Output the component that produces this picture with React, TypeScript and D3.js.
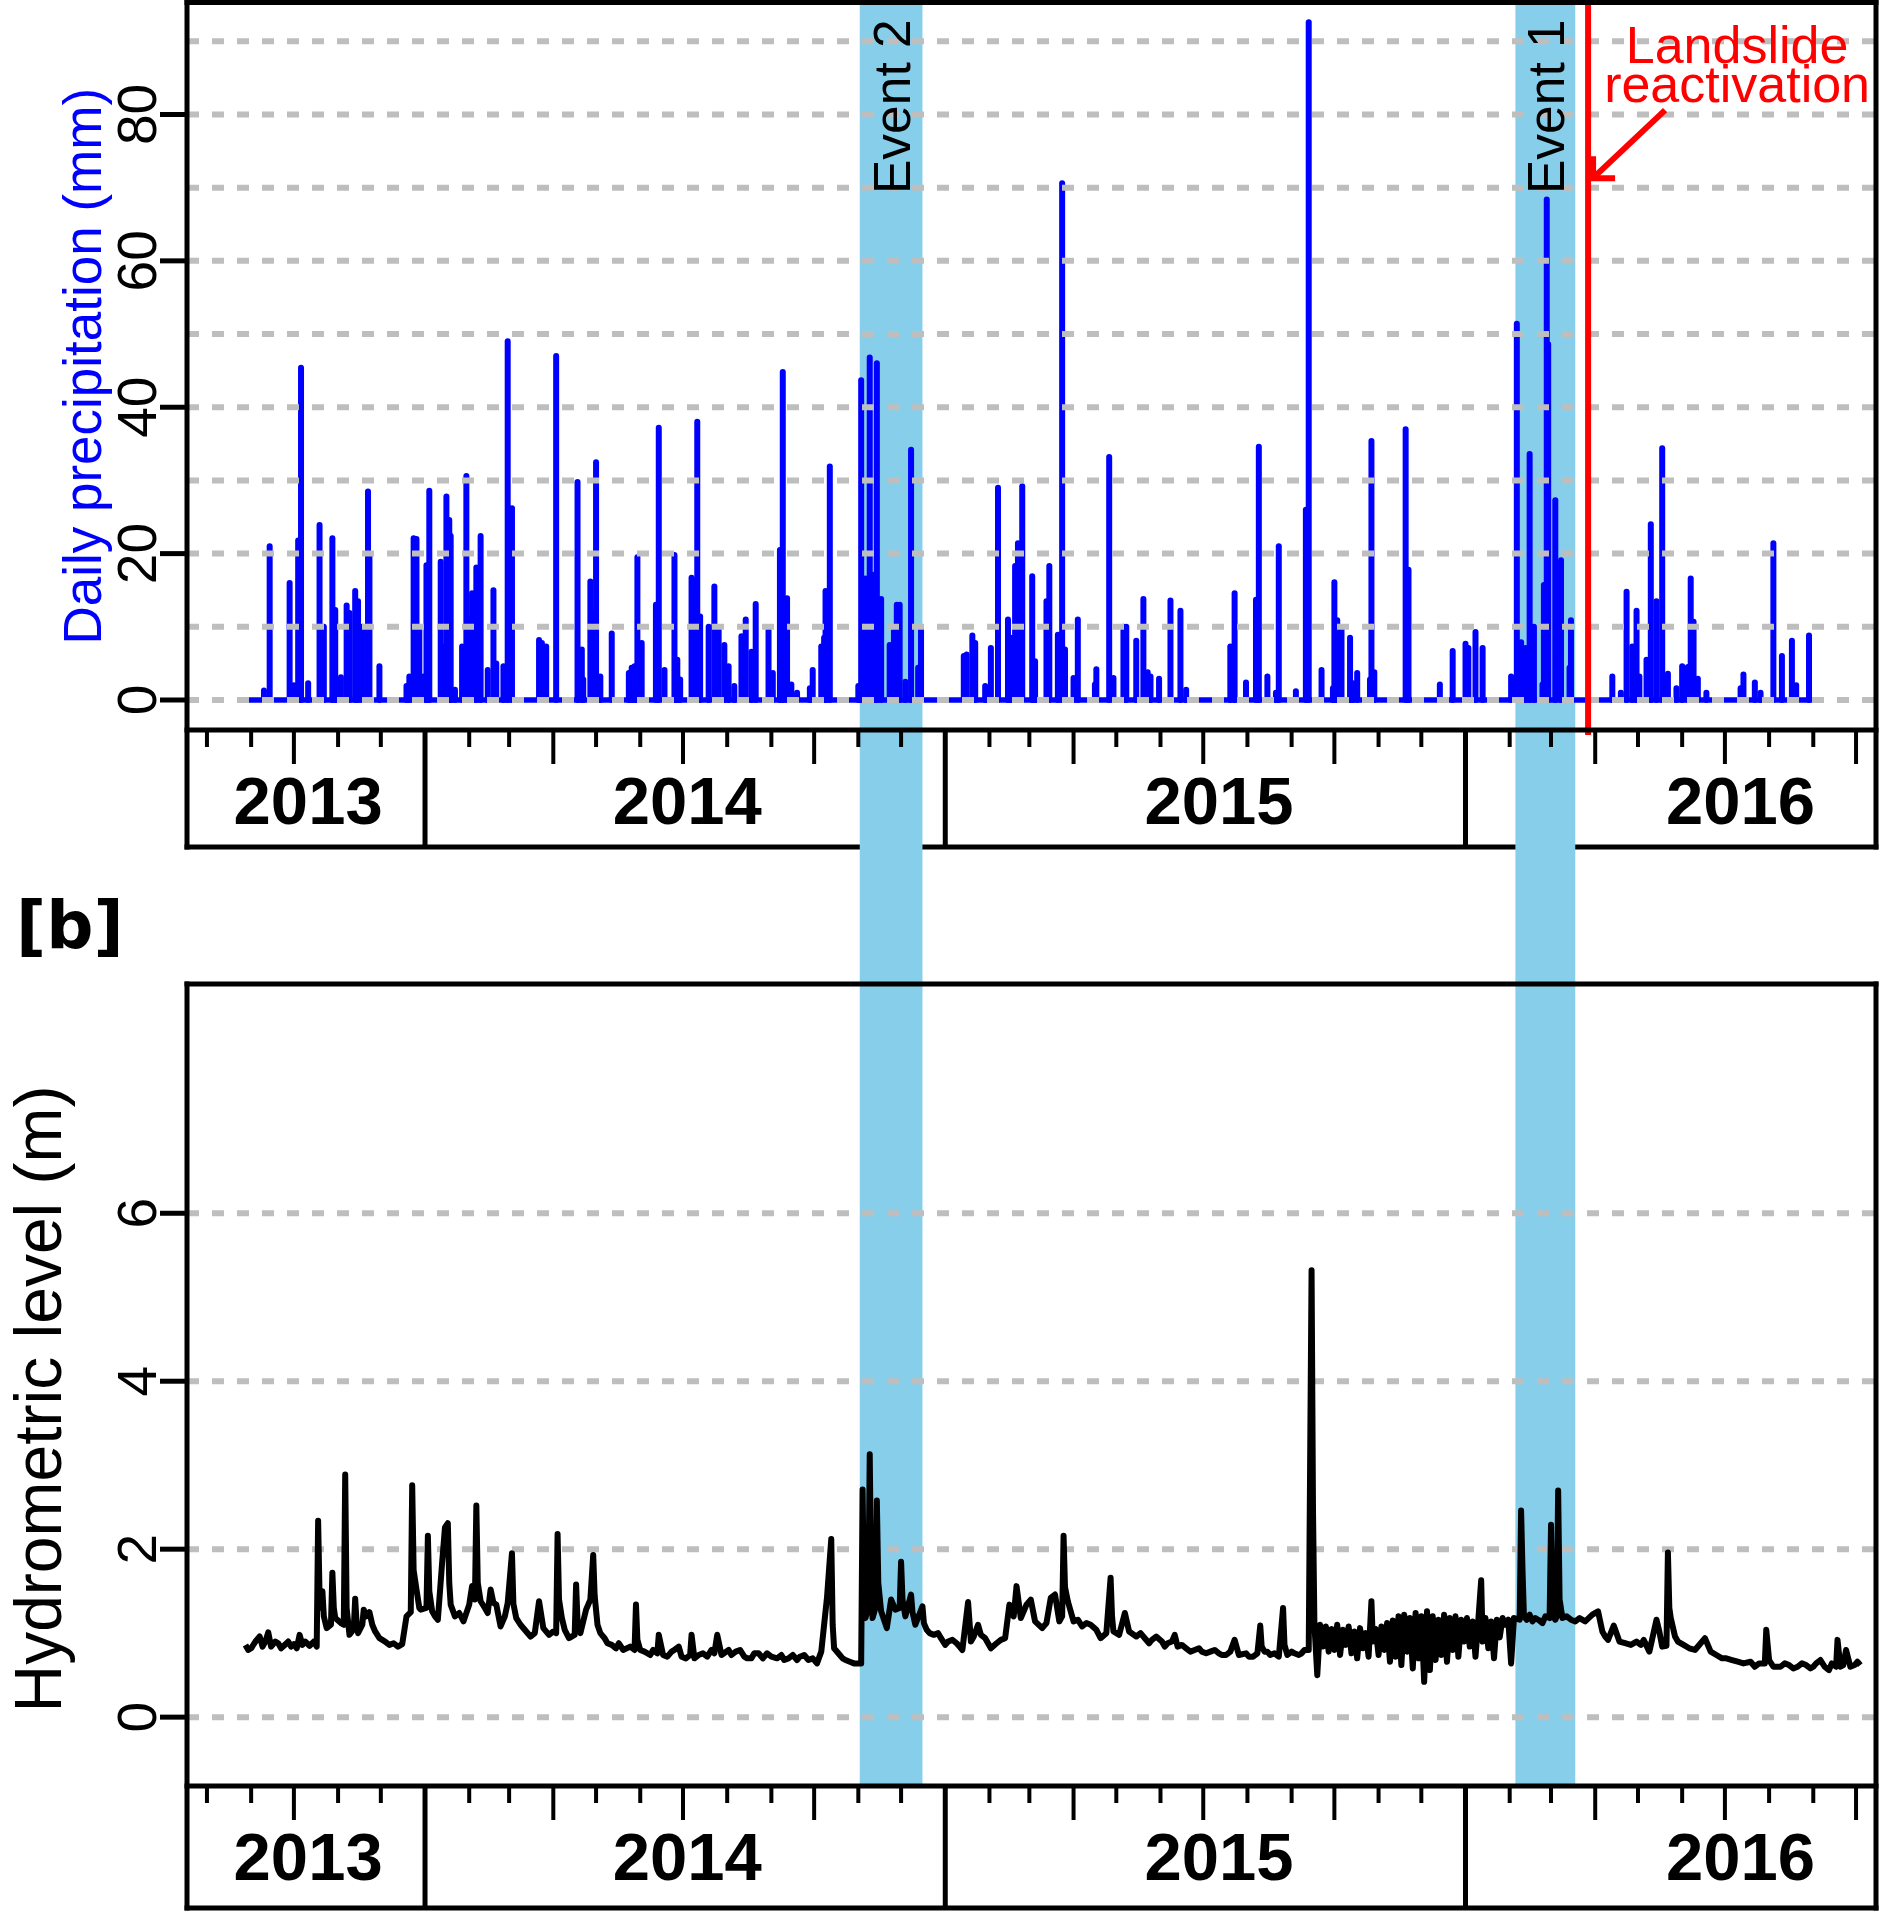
import React, { useEffect, useRef } from 'react';
import * as d3 from 'd3';

// daily precipitation (mm), days without rain are zero
const rainfall: [string, number][] = [
  ['2013-09-10', 1.3], ['2013-09-14', 21], ['2013-09-28', 16], ['2013-10-01', 2], ['2013-10-04', 21.8],
  ['2013-10-06', 45.4], ['2013-10-11', 2.3], ['2013-10-19', 23.9], ['2013-10-22', 10], ['2013-10-28', 22.1],
  ['2013-10-30', 12.3], ['2013-11-03', 3.1], ['2013-11-07', 12.9], ['2013-11-09', 11.9], ['2013-11-13', 14.9],
  ['2013-11-15', 13.5], ['2013-11-18', 10], ['2013-11-22', 28.5], ['2013-11-23', 19.6], ['2013-11-30', 4.6],
  ['2013-12-19', 1.9], ['2013-12-21', 3.2], ['2013-12-24', 22.1], ['2013-12-26', 22], ['2013-12-28', 9.6],
  ['2013-12-31', 3.2], ['2014-01-02', 18.4], ['2014-01-04', 28.6], ['2014-01-12', 18.9], ['2014-01-14', 7.3],
  ['2014-01-16', 27.8], ['2014-01-18', 24.6], ['2014-01-19', 22.4], ['2014-01-22', 1.4], ['2014-01-27', 7.3],
  ['2014-01-30', 30.6], ['2014-02-01', 11], ['2014-02-03', 14.6], ['2014-02-06', 18.1], ['2014-02-09', 22.4],
  ['2014-02-14', 4.1], ['2014-02-18', 15], ['2014-02-20', 5], ['2014-02-25', 4.6], ['2014-02-28', 49],
  ['2014-03-03', 26.2], ['2014-03-22', 8.2], ['2014-03-24', 7.8], ['2014-03-27', 7.3], ['2014-04-03', 47],
  ['2014-04-18', 29.8], ['2014-04-21', 6.9], ['2014-04-22', 2.8], ['2014-04-27', 16.2], ['2014-04-28', 11.9],
  ['2014-05-01', 32.5], ['2014-05-04', 3.2], ['2014-05-12', 9.1], ['2014-05-24', 3.7], ['2014-05-26', 4.4],
  ['2014-05-28', 4.6], ['2014-05-30', 19.5], ['2014-06-02', 7.8], ['2014-06-12', 13], ['2014-06-14', 37.2],
  ['2014-06-18', 4.1], ['2014-06-25', 19.8], ['2014-06-27', 5.5], ['2014-06-29', 2.8], ['2014-07-07', 16.7],
  ['2014-07-08', 16.4], ['2014-07-11', 38], ['2014-07-13', 11.4], ['2014-07-19', 10], ['2014-07-23', 15.5],
  ['2014-07-26', 9.6], ['2014-07-30', 7.5], ['2014-08-02', 4.6], ['2014-08-06', 1.9], ['2014-08-11', 8.7],
  ['2014-08-14', 11], ['2014-08-18', 6.6], ['2014-08-21', 13.1], ['2014-08-30', 9.5], ['2014-09-02', 3.7],
  ['2014-09-07', 20.5], ['2014-09-09', 44.8], ['2014-09-12', 13.9], ['2014-09-15', 2.1], ['2014-09-19', 1],
  ['2014-09-28', 1.6], ['2014-09-30', 4.1], ['2014-10-06', 7.3], ['2014-10-08', 8.5], ['2014-10-09', 14.9],
  ['2014-10-12', 31.9], ['2014-11-01', 1.9], ['2014-11-03', 43.7], ['2014-11-06', 16.6], ['2014-11-07', 8],
  ['2014-11-09', 46.8], ['2014-11-12', 17.1], ['2014-11-14', 46], ['2014-11-17', 13.8], ['2014-11-23', 7.5],
  ['2014-11-26', 9.4], ['2014-11-28', 13], ['2014-11-30', 13], ['2014-12-04', 2.5], ['2014-12-08', 34.2],
  ['2014-12-13', 4.4], ['2014-12-15', 9.6], ['2015-01-14', 6], ['2015-01-16', 6.2], ['2015-01-20', 8.8],
  ['2015-01-22', 7.8], ['2015-01-29', 1.9], ['2015-02-02', 7.1], ['2015-02-07', 29], ['2015-02-14', 11],
  ['2015-02-16', 8.5], ['2015-02-19', 18.3], ['2015-02-21', 21.4], ['2015-02-24', 29.2], ['2015-03-03', 16.9],
  ['2015-03-05', 5.3], ['2015-03-13', 13.5], ['2015-03-15', 18.3], ['2015-03-21', 8.9], ['2015-03-24', 70.6],
  ['2015-03-26', 6.9], ['2015-04-01', 3], ['2015-04-04', 11], ['2015-04-16', 2.1], ['2015-04-17', 4.2],
  ['2015-04-26', 33.2], ['2015-04-29', 3], ['2015-05-06', 10], ['2015-05-08', 10], ['2015-05-15', 8.1],
  ['2015-05-20', 13.8], ['2015-05-23', 3.8], ['2015-05-25', 3.2], ['2015-05-31', 2.9], ['2015-06-08', 13.6],
  ['2015-06-15', 12.2], ['2015-06-19', 1.4], ['2015-07-20', 7.3], ['2015-07-23', 14.6], ['2015-07-31', 2.4],
  ['2015-08-07', 13.7], ['2015-08-09', 34.6], ['2015-08-15', 3.2], ['2015-08-21', 1], ['2015-08-23', 21],
  ['2015-09-04', 1.2], ['2015-09-11', 26], ['2015-09-13', 92.6], ['2015-09-22', 4.1], ['2015-09-30', 1.6],
  ['2015-10-01', 16.1], ['2015-10-03', 10.9], ['2015-10-06', 9.6], ['2015-10-12', 8.5], ['2015-10-14', 2.3],
  ['2015-10-17', 3.7], ['2015-10-26', 2.8], ['2015-10-27', 35.4], ['2015-10-29', 3.8], ['2015-11-20', 37],
  ['2015-11-22', 17.8], ['2015-12-14', 2.1], ['2015-12-23', 6.7], ['2016-01-01', 7.7], ['2016-01-03', 7.1],
  ['2016-01-08', 9.3], ['2016-01-13', 7.1], ['2016-02-02', 3.2], ['2016-02-06', 51.4], ['2016-02-09', 7.9],
  ['2016-02-12', 7.1], ['2016-02-15', 33.6], ['2016-02-18', 10], ['2016-02-24', 2.1], ['2016-02-25', 15.7],
  ['2016-02-27', 68.4], ['2016-02-28', 48.6], ['2016-03-04', 27.3], ['2016-03-08', 19.1], ['2016-03-14', 4.4],
  ['2016-03-15', 10.9], ['2016-04-13', 3.2], ['2016-04-19', 1], ['2016-04-23', 14.8], ['2016-04-27', 7.3],
  ['2016-04-30', 12.2], ['2016-05-02', 3.2], ['2016-05-07', 5.5], ['2016-05-10', 24], ['2016-05-14', 13.5],
  ['2016-05-18', 34.4], ['2016-05-22', 3.6], ['2016-05-28', 1.6], ['2016-06-01', 4.6], ['2016-06-05', 4.5],
  ['2016-06-07', 16.6], ['2016-06-09', 10.7], ['2016-06-12', 2.9], ['2016-06-18', 1], ['2016-07-12', 1.6],
  ['2016-07-14', 3.5], ['2016-07-22', 2.4], ['2016-07-26', 1], ['2016-08-04', 21.4], ['2016-08-10', 6],
  ['2016-08-17', 8.1], ['2016-08-20', 2], ['2016-08-29', 8.8],
];
const rainRecord = ['2013-08-27', '2016-09-03'];

// hydrometric level (m)
const hydroLevel: [string, number][] = [
  ['2013-08-28', 0.86], ['2013-08-30', 0.8], ['2013-09-01', 0.82], ['2013-09-04', 0.9], ['2013-09-07', 0.96],
  ['2013-09-09', 0.84], ['2013-09-11', 0.9], ['2013-09-13', 1.01], ['2013-09-15', 0.84], ['2013-09-18', 0.9],
  ['2013-09-20', 0.88], ['2013-09-22', 0.82], ['2013-09-24', 0.85], ['2013-09-27', 0.9], ['2013-09-29', 0.84],
  ['2013-10-01', 0.87], ['2013-10-03', 0.82], ['2013-10-05', 0.98], ['2013-10-07', 0.86], ['2013-10-09', 0.9],
  ['2013-10-12', 0.85], ['2013-10-15', 0.9], ['2013-10-17', 0.84], ['2013-10-18', 2.34], ['2013-10-19', 1.45],
  ['2013-10-20', 1.3], ['2013-10-21', 1.5], ['2013-10-22', 1.2], ['2013-10-24', 1.06], ['2013-10-27', 1.1],
  ['2013-10-28', 1.72], ['2013-10-29', 1.3], ['2013-10-30', 1.18], ['2013-11-03', 1.12], ['2013-11-05', 1.1],
  ['2013-11-06', 2.89], ['2013-11-07', 1.3], ['2013-11-09', 0.98], ['2013-11-12', 1.05], ['2013-11-13', 1.41],
  ['2013-11-14', 1.12], ['2013-11-15', 1.0], ['2013-11-18', 1.1], ['2013-11-19', 1.28], ['2013-11-21', 1.2],
  ['2013-11-23', 1.25], ['2013-11-25', 1.1], ['2013-11-27', 1.02], ['2013-11-30', 0.94], ['2013-12-04', 0.9],
  ['2013-12-07', 0.86], ['2013-12-10', 0.88], ['2013-12-13', 0.84], ['2013-12-16', 0.87], ['2013-12-19', 1.2],
  ['2013-12-22', 1.25], ['2013-12-23', 2.76], ['2013-12-24', 1.75], ['2013-12-26', 1.52], ['2013-12-28', 1.3],
  ['2013-12-29', 1.28], ['2014-01-02', 1.3], ['2014-01-03', 2.16], ['2014-01-04', 1.5], ['2014-01-06', 1.26],
  ['2014-01-08', 1.2], ['2014-01-10', 1.16], ['2014-01-13', 1.84], ['2014-01-15', 2.26], ['2014-01-17', 2.31],
  ['2014-01-18', 1.6], ['2014-01-19', 1.34], ['2014-01-22', 1.2], ['2014-01-25', 1.24], ['2014-01-28', 1.14],
  ['2014-02-01', 1.34], ['2014-02-03', 1.56], ['2014-02-05', 1.4], ['2014-02-06', 2.52], ['2014-02-07', 1.6],
  ['2014-02-09', 1.38], ['2014-02-12', 1.3], ['2014-02-14', 1.24], ['2014-02-16', 1.52], ['2014-02-18', 1.36],
  ['2014-02-20', 1.34], ['2014-02-23', 1.08], ['2014-02-26', 1.2], ['2014-02-28', 1.36], ['2014-03-03', 1.95],
  ['2014-03-04', 1.35], ['2014-03-06', 1.18], ['2014-03-09', 1.1], ['2014-03-13', 1.02], ['2014-03-16', 0.96],
  ['2014-03-19', 1.0], ['2014-03-22', 1.38], ['2014-03-25', 1.06], ['2014-03-29', 0.98], ['2014-04-01', 1.02],
  ['2014-04-03', 1.0], ['2014-04-04', 2.18], ['2014-04-05', 1.4], ['2014-04-07', 1.18], ['2014-04-09', 1.04],
  ['2014-04-12', 0.94], ['2014-04-16', 0.98], ['2014-04-17', 1.58], ['2014-04-18', 1.14], ['2014-04-20', 1.0],
  ['2014-04-24', 1.28], ['2014-04-27', 1.4], ['2014-04-29', 1.93], ['2014-04-30', 1.45], ['2014-05-02', 1.1],
  ['2014-05-04', 1.0], ['2014-05-07', 0.94], ['2014-05-09', 0.88], ['2014-05-12', 0.86], ['2014-05-15', 0.82],
  ['2014-05-17', 0.88], ['2014-05-20', 0.8], ['2014-05-25', 0.84], ['2014-05-28', 0.8], ['2014-05-29', 1.34],
  ['2014-05-30', 0.92], ['2014-06-01', 0.8], ['2014-06-04', 0.78], ['2014-06-08', 0.74], ['2014-06-10', 0.8],
  ['2014-06-13', 0.76], ['2014-06-14', 0.98], ['2014-06-17', 0.74], ['2014-06-20', 0.72], ['2014-06-23', 0.78],
  ['2014-06-25', 0.8], ['2014-06-28', 0.84], ['2014-06-30', 0.72], ['2014-07-03', 0.7], ['2014-07-06', 0.74],
  ['2014-07-07', 0.98], ['2014-07-09', 0.7], ['2014-07-12', 0.74], ['2014-07-15', 0.76], ['2014-07-18', 0.72],
  ['2014-07-21', 0.8], ['2014-07-23', 0.76], ['2014-07-25', 0.98], ['2014-07-28', 0.74], ['2014-08-02', 0.8],
  ['2014-08-04', 0.74], ['2014-08-07', 0.78], ['2014-08-10', 0.8], ['2014-08-13', 0.72], ['2014-08-15', 0.7],
  ['2014-08-18', 0.7], ['2014-08-20', 0.76], ['2014-08-23', 0.76], ['2014-08-26', 0.7], ['2014-08-29', 0.76],
  ['2014-09-01', 0.72], ['2014-09-05', 0.7], ['2014-09-08', 0.74], ['2014-09-10', 0.68], ['2014-09-13', 0.7],
  ['2014-09-16', 0.74], ['2014-09-19', 0.68], ['2014-09-21', 0.72], ['2014-09-24', 0.74], ['2014-09-27', 0.68],
  ['2014-09-30', 0.7], ['2014-10-03', 0.64], ['2014-10-06', 0.78], ['2014-10-10', 1.42], ['2014-10-13', 2.12],
  ['2014-10-14', 1.1], ['2014-10-15', 0.82], ['2014-10-19', 0.74], ['2014-10-21', 0.7], ['2014-10-23', 0.68],
  ['2014-10-26', 0.66], ['2014-10-29', 0.64], ['2014-11-03', 0.64], ['2014-11-04', 2.71], ['2014-11-05', 1.4],
  ['2014-11-06', 1.18], ['2014-11-08', 1.3], ['2014-11-09', 3.13], ['2014-11-10', 1.6], ['2014-11-11', 1.18],
  ['2014-11-13', 1.3], ['2014-11-14', 2.58], ['2014-11-15', 1.6], ['2014-11-17', 1.26], ['2014-11-21', 1.06],
  ['2014-11-24', 1.4], ['2014-11-27', 1.28], ['2014-11-30', 1.3], ['2014-12-01', 1.85], ['2014-12-02', 1.4],
  ['2014-12-04', 1.2], ['2014-12-08', 1.46], ['2014-12-09', 1.25], ['2014-12-11', 1.1], ['2014-12-16', 1.32],
  ['2014-12-17', 1.12], ['2014-12-19', 1.04], ['2014-12-21', 1.0], ['2014-12-24', 0.98], ['2014-12-27', 1.0],
  ['2014-12-29', 0.94], ['2015-01-01', 0.86], ['2015-01-03', 0.9], ['2015-01-06', 0.92], ['2015-01-09', 0.88],
  ['2015-01-11', 0.84], ['2015-01-13', 0.8], ['2015-01-17', 1.37], ['2015-01-19', 0.9], ['2015-01-21', 0.96],
  ['2015-01-24', 1.1], ['2015-01-26', 0.98], ['2015-01-29', 0.94], ['2015-02-02', 0.82], ['2015-02-06', 0.88],
  ['2015-02-09', 0.92], ['2015-02-12', 0.94], ['2015-02-15', 1.34], ['2015-02-18', 1.2], ['2015-02-20', 1.56],
  ['2015-02-23', 1.18], ['2015-02-27', 1.34], ['2015-03-02', 1.4], ['2015-03-05', 1.14], ['2015-03-10', 1.06],
  ['2015-03-13', 1.12], ['2015-03-16', 1.42], ['2015-03-19', 1.46], ['2015-03-22', 1.14], ['2015-03-24', 1.2],
  ['2015-03-25', 2.16], ['2015-03-26', 1.55], ['2015-03-28', 1.38], ['2015-04-01', 1.14], ['2015-04-04', 1.16],
  ['2015-04-07', 1.08], ['2015-04-10', 1.12], ['2015-04-13', 1.1], ['2015-04-17', 1.04], ['2015-04-20', 0.94],
  ['2015-04-24', 1.0], ['2015-04-27', 1.66], ['2015-04-28', 1.2], ['2015-04-29', 1.02], ['2015-05-03', 0.98],
  ['2015-05-07', 1.24], ['2015-05-10', 1.02], ['2015-05-15', 0.96], ['2015-05-18', 1.0], ['2015-05-21', 0.94],
  ['2015-05-24', 0.88], ['2015-05-26', 0.92], ['2015-05-29', 0.96], ['2015-06-02', 0.9], ['2015-06-04', 0.84],
  ['2015-06-06', 0.88], ['2015-06-09', 0.9], ['2015-06-11', 0.98], ['2015-06-13', 0.84], ['2015-06-16', 0.86],
  ['2015-06-19', 0.82], ['2015-06-22', 0.78], ['2015-06-25', 0.8], ['2015-06-28', 0.82], ['2015-06-30', 0.78],
  ['2015-07-03', 0.76], ['2015-07-06', 0.78], ['2015-07-09', 0.8], ['2015-07-12', 0.76], ['2015-07-14', 0.74],
  ['2015-07-17', 0.74], ['2015-07-20', 0.78], ['2015-07-23', 0.92], ['2015-07-26', 0.74], ['2015-07-31', 0.76],
  ['2015-08-02', 0.72], ['2015-08-05', 0.72], ['2015-08-08', 0.76], ['2015-08-10', 1.09], ['2015-08-11', 0.84],
  ['2015-08-13', 0.78], ['2015-08-15', 0.78], ['2015-08-17', 0.74], ['2015-08-20', 0.76], ['2015-08-23', 0.72],
  ['2015-08-26', 1.3], ['2015-08-27', 0.86], ['2015-08-29', 0.74], ['2015-09-01', 0.78], ['2015-09-03', 0.76],
  ['2015-09-06', 0.74], ['2015-09-08', 0.76], ['2015-09-10', 0.8], ['2015-09-13', 0.8], ['2015-09-15', 5.32],
  ['2015-09-16', 2.46], ['2015-09-17', 1.1], ['2015-09-19', 0.5], ['2015-09-21', 1.1], ['2015-09-23', 0.84],
  ['2015-09-25', 1.08], ['2015-09-27', 0.78], ['2015-09-29', 1.05], ['2015-10-01', 0.8], ['2015-10-03', 1.1],
  ['2015-10-05', 0.74], ['2015-10-07', 1.04], ['2015-10-09', 0.86], ['2015-10-11', 1.08], ['2015-10-13', 0.76],
  ['2015-10-15', 1.02], ['2015-10-17', 0.7], ['2015-10-19', 1.06], ['2015-10-21', 0.82], ['2015-10-23', 1.0],
  ['2015-10-25', 0.72], ['2015-10-27', 1.38], ['2015-10-28', 0.9], ['2015-10-30', 1.05], ['2015-11-01', 0.74],
  ['2015-11-03', 1.08], ['2015-11-05', 0.8], ['2015-11-07', 1.12], ['2015-11-09', 0.66], ['2015-11-11', 1.15],
  ['2015-11-13', 0.72], ['2015-11-15', 1.2], ['2015-11-17', 0.62], ['2015-11-19', 1.22], ['2015-11-21', 0.78],
  ['2015-11-23', 1.18], ['2015-11-25', 0.58], ['2015-11-27', 1.24], ['2015-11-29', 0.7], ['2015-12-01', 1.2],
  ['2015-12-03', 0.42], ['2015-12-05', 1.26], ['2015-12-07', 0.56], ['2015-12-09', 1.2], ['2015-12-11', 0.68],
  ['2015-12-13', 1.16], ['2015-12-15', 0.74], ['2015-12-17', 1.22], ['2015-12-19', 0.66], ['2015-12-21', 1.18],
  ['2015-12-23', 0.8], ['2015-12-25', 1.2], ['2015-12-27', 0.72], ['2015-12-29', 1.16], ['2015-12-31', 0.9],
  ['2016-01-02', 1.18], ['2016-01-04', 0.84], ['2016-01-06', 1.14], ['2016-01-08', 0.72], ['2016-01-10', 1.16],
  ['2016-01-12', 1.63], ['2016-01-13', 0.9], ['2016-01-15', 1.18], ['2016-01-17', 0.82], ['2016-01-19', 1.14],
  ['2016-01-21', 0.7], ['2016-01-23', 1.16], ['2016-01-25', 0.95], ['2016-01-27', 1.18], ['2016-01-29', 1.1],
  ['2016-01-31', 1.16], ['2016-02-02', 0.64], ['2016-02-04', 1.18], ['2016-02-08', 1.16], ['2016-02-09', 2.46],
  ['2016-02-10', 1.74], ['2016-02-11', 1.2], ['2016-02-13', 1.16], ['2016-02-15', 1.22], ['2016-02-17', 1.14],
  ['2016-02-19', 1.18], ['2016-02-21', 1.16], ['2016-02-24', 1.12], ['2016-02-26', 1.2], ['2016-02-29', 1.18],
  ['2016-03-01', 2.29], ['2016-03-02', 1.22], ['2016-03-04', 1.16], ['2016-03-05', 1.2], ['2016-03-06', 2.7],
  ['2016-03-07', 1.4], ['2016-03-09', 1.18], ['2016-03-12', 1.2], ['2016-03-15', 1.16], ['2016-03-18', 1.14],
  ['2016-03-21', 1.18], ['2016-03-25', 1.14], ['2016-03-30', 1.22], ['2016-04-03', 1.26], ['2016-04-06', 1.02],
  ['2016-04-08', 0.96], ['2016-04-10', 0.92], ['2016-04-14', 1.09], ['2016-04-18', 0.9], ['2016-04-22', 0.88],
  ['2016-04-26', 0.86], ['2016-04-30', 0.9], ['2016-05-03', 0.86], ['2016-05-05', 0.92], ['2016-05-09', 0.78],
  ['2016-05-14', 1.16], ['2016-05-16', 1.02], ['2016-05-18', 0.84], ['2016-05-21', 0.85], ['2016-05-22', 1.96],
  ['2016-05-23', 1.3], ['2016-05-24', 1.18], ['2016-05-27', 0.96], ['2016-05-29', 0.9], ['2016-06-02', 0.86],
  ['2016-06-06', 0.82], ['2016-06-10', 0.8], ['2016-06-14', 0.88], ['2016-06-17', 0.94], ['2016-06-21', 0.78],
  ['2016-06-25', 0.74], ['2016-06-29', 0.7], ['2016-07-02', 0.7], ['2016-07-06', 0.68], ['2016-07-10', 0.66],
  ['2016-07-14', 0.64], ['2016-07-19', 0.66], ['2016-07-22', 0.6], ['2016-07-25', 0.64], ['2016-07-29', 0.64],
  ['2016-07-30', 1.04], ['2016-08-01', 0.68], ['2016-08-04', 0.6], ['2016-08-09', 0.6], ['2016-08-12', 0.64],
  ['2016-08-15', 0.62], ['2016-08-18', 0.58], ['2016-08-21', 0.6], ['2016-08-24', 0.64], ['2016-08-27', 0.62],
  ['2016-08-30', 0.58], ['2016-09-01', 0.6], ['2016-09-03', 0.64], ['2016-09-06', 0.68], ['2016-09-09', 0.6],
  ['2016-09-12', 0.56], ['2016-09-14', 0.64], ['2016-09-17', 0.6], ['2016-09-18', 0.92], ['2016-09-20', 0.6],
  ['2016-09-22', 0.62], ['2016-09-24', 0.8], ['2016-09-27', 0.6], ['2016-09-30', 0.62], ['2016-10-02', 0.66],
  ['2016-10-04', 0.62],
];

const events = [
  { label: 'Event 2', start: '2014-11-02', end: '2014-12-16' },
  { label: 'Event 1', start: '2016-02-05', end: '2016-03-18' },
];
const reactivationDate = '2016-03-27';
const years = ['2013', '2014', '2015', '2016'];
const yearLabelDates = ['2013-10-11', '2014-07-04', '2015-07-12', '2016-07-12'];
const rainTicks = [0, 20, 40, 60, 80];
const rainGrid = [0, 10, 20, 30, 40, 50, 60, 70, 80, 90];
const levelTicks = [0, 2, 4, 6];

const FONT = "'Liberation Sans', Arial, Helvetica, sans-serif";

export default function App() {
  const svgRef = useRef<SVGSVGElement>(null);

  useEffect(() => {
    if (!svgRef.current) return;
    const width = 1880;
    const height = 1913;
    const parse = d3.timeParse('%Y-%m-%d');

    const svg = d3.select(svgRef.current).attr('width', width).attr('height', height);
    svg.selectAll('*').remove();

    const left = 187, right = 1876;
    const x = d3.scaleTime()
      .domain([parse('2013-07-18')!, parse('2016-10-15')!])
      .range([left, right]);

    const top = { plotTop: 2.5, plotBottom: 730, stripBottom: 847 };
    const bot = { plotTop: 984, plotBottom: 1786, stripBottom: 1908 };

    const yRain = d3.scaleLinear().domain([-4.1, 95.3]).range([top.plotBottom, top.plotTop]);
    const yLevel = d3.scaleLinear().domain([-0.82, 8.73]).range([bot.plotBottom, bot.plotTop]);

    const line = (g: any, x1: number, y1: number, x2: number, y2: number, w = 5, color = '#000') =>
      g.append('line').attr('x1', x1).attr('y1', y1).attr('x2', x2).attr('y2', y2)
        .attr('stroke', color).attr('stroke-width', w).attr('stroke-linecap', 'square');

    // strip bottom of panel a sits under the event bands
    line(svg, left, top.stripBottom, right, top.stripBottom);

    // event bands
    svg.append('g').selectAll('rect')
      .data(events)
      .join('rect')
      .attr('x', d => x(parse(d.start)!))
      .attr('width', d => x(parse(d.end)!) - x(parse(d.start)!))
      .attr('y', 5)
      .attr('height', bot.plotBottom - 5)
      .attr('fill', '#87CEEB');

    // ---- panel a: precipitation ----
    const ga = svg.append('g');
    const rainLine = d3.line<[Date, number]>().x(d => x(d[0])).y(d => yRain(d[1]));
    ga.append('path')
      .attr('d', rainLine(rainRecord.map(s => [parse(s)!, 0])))
      .attr('stroke', '#0000FF').attr('stroke-width', 5.5).attr('fill', 'none')
      .attr('stroke-linecap', 'round');
    ga.selectAll('line.bar')
      .data(rainfall)
      .join('line')
      .attr('class', 'bar')
      .attr('x1', d => x(parse(d[0])!))
      .attr('x2', d => x(parse(d[0])!))
      .attr('y1', yRain(0))
      .attr('y2', d => yRain(d[1]))
      .attr('stroke', '#0000FF')
      .attr('stroke-width', 6)
      .attr('stroke-linecap', 'round');

    ga.selectAll('line.grid')
      .data(rainGrid)
      .join('line')
      .attr('class', 'grid')
      .attr('x1', left).attr('x2', right)
      .attr('y1', d => yRain(d)).attr('y2', d => yRain(d))
      .attr('stroke', '#BEBEBE').attr('stroke-width', 6).attr('stroke-dasharray', '12 13');

    // event labels
    ga.selectAll('text.event')
      .data(events)
      .join('text')
      .attr('class', 'event')
      .attr('transform', d => {
        const cx = (x(parse(d.start)!) + x(parse(d.end)!)) / 2;
        return `translate(${cx + 19},194) rotate(-90)`;
      })
      .attr('font-family', FONT)
      .attr('font-size', 51.5)
      .attr('fill', '#000')
      .text(d => d.label);

    // landslide reactivation
    const xr = x(parse(reactivationDate)!);
    line(ga, xr, 4, xr, top.plotBottom + 5, 6, '#FF0000').attr('stroke-linecap', 'butt');
    const tip = [xr + 5, yRain(71.3)];
    const tail = [xr + 77, yRain(80.6)];
    ga.append('line')
      .attr('x1', tail[0]).attr('y1', tail[1]).attr('x2', tip[0] + 2).attr('y2', tip[1] - 2)
      .attr('stroke', '#FF0000').attr('stroke-width', 6);
    ga.append('path')
      .attr('d', `M${tip[0]},${tip[1] - 22}L${tip[0]},${tip[1]}L${tip[0] + 22},${tip[1]}`)
      .attr('stroke', '#FF0000').attr('stroke-width', 6).attr('fill', 'none');
    ga.selectAll('text.react')
      .data(['Landslide', 'reactivation'])
      .join('text')
      .attr('class', 'react')
      .attr('x', xr + 149)
      .attr('y', (d, i) => 63 + i * 39)
      .attr('text-anchor', 'middle')
      .attr('font-family', FONT)
      .attr('font-size', 52)
      .attr('fill', '#FF0000')
      .text(d => d);

    // ---- panel b: hydrometric level ----
    const gb = svg.append('g');
    gb.selectAll('line.grid')
      .data(levelTicks)
      .join('line')
      .attr('class', 'grid')
      .attr('x1', left).attr('x2', right)
      .attr('y1', d => yLevel(d)).attr('y2', d => yLevel(d))
      .attr('stroke', '#BEBEBE').attr('stroke-width', 6).attr('stroke-dasharray', '12 13');

    const levelLine = d3.line<[string, number]>()
      .x(d => x(parse(d[0])!))
      .y(d => yLevel(d[1]));
    gb.append('path')
      .attr('d', levelLine(hydroLevel))
      .attr('fill', 'none')
      .attr('stroke', '#000')
      .attr('stroke-width', 6)
      .attr('stroke-linejoin', 'round');

    // ---- frames, time strips, axes ----
    const drawFrame = (p: { plotTop: number; plotBottom: number; stripBottom: number }, withBottom: boolean) => {
      const g = svg.append('g');
      line(g, left, p.plotTop, right, p.plotTop);
      line(g, left, p.plotTop, left, p.stripBottom);
      line(g, right, p.plotTop, right, p.stripBottom);
      line(g, left, p.plotBottom, right, p.plotBottom);
      if (withBottom) line(g, left, p.stripBottom, right, p.stripBottom);

      const [d0, d1] = x.domain();
      g.selectAll('line.div')
        .data(d3.timeYear.range(d0, d1))
        .join('line')
        .attr('class', 'div')
        .attr('x1', d => x(d)).attr('x2', d => x(d))
        .attr('y1', p.plotBottom).attr('y2', p.stripBottom)
        .attr('stroke', '#000').attr('stroke-width', 5);

      g.selectAll('line.tick')
        .data(d3.timeMonth.range(d0, d1).filter(d => d.getMonth() !== 0))
        .join('line')
        .attr('class', 'tick')
        .attr('x1', d => x(d)).attr('x2', d => x(d))
        .attr('y1', p.plotBottom)
        .attr('y2', d => p.plotBottom + (d.getMonth() % 3 === 0 ? 34 : 17))
        .attr('stroke', '#000').attr('stroke-width', 4);

      g.selectAll('text.year')
        .data(years)
        .join('text')
        .attr('class', 'year')
        .attr('x', (d, i) => x(parse(yearLabelDates[i])!))
        .attr('y', p.plotBottom + 94)
        .attr('text-anchor', 'middle')
        .attr('font-family', FONT)
        .attr('font-weight', 'bold')
        .attr('font-size', 67)
        .text(d => d);
      return g;
    };

    const fa = drawFrame(top, false);
    const fb = drawFrame(bot, true);

    // y axes
    const yAxis = (g: any, scale: any, ticks: number[]) => {
      g.selectAll('line.ytick')
        .data(ticks)
        .join('line')
        .attr('class', 'ytick')
        .attr('x1', left - 27).attr('x2', left)
        .attr('y1', (d: number) => scale(d)).attr('y2', (d: number) => scale(d))
        .attr('stroke', '#000').attr('stroke-width', 5);
      g.selectAll('text.ylab')
        .data(ticks)
        .join('text')
        .attr('class', 'ylab')
        .attr('transform', (d: number) => `translate(156,${scale(d)}) rotate(-90)`)
        .attr('text-anchor', 'middle')
        .attr('font-family', FONT)
        .attr('font-size', 55)
        .text((d: number) => d);
    };
    yAxis(fa, yRain, rainTicks);
    yAxis(fb, yLevel, levelTicks);

    svg.append('text')
      .attr('transform', `translate(101,${(top.plotTop + top.plotBottom) / 2}) rotate(-90)`)
      .attr('text-anchor', 'middle')
      .attr('font-family', FONT)
      .attr('font-size', 53)
      .attr('fill', '#0000FF')
      .text('Daily precipitation (mm)');

    svg.append('text')
      .attr('transform', `translate(61,1399) rotate(-90)`)
      .attr('text-anchor', 'middle')
      .attr('font-family', FONT)
      .attr('font-size', 66)
      .attr('fill', '#000')
      .text('Hydrometric level (m)');

    svg.append('text')
      .attr('x', 16)
      .attr('y', 948)
      .attr('font-family', "'DejaVu Sans', sans-serif")
      .attr('font-weight', 'bold')
      .attr('font-size', 66)
      .text('[b]');
  }, []);

  return (
    <svg
      ref={svgRef}
      style={{ position: 'absolute', left: 0, top: 0, background: '#fff' }}
    />
  );
}
